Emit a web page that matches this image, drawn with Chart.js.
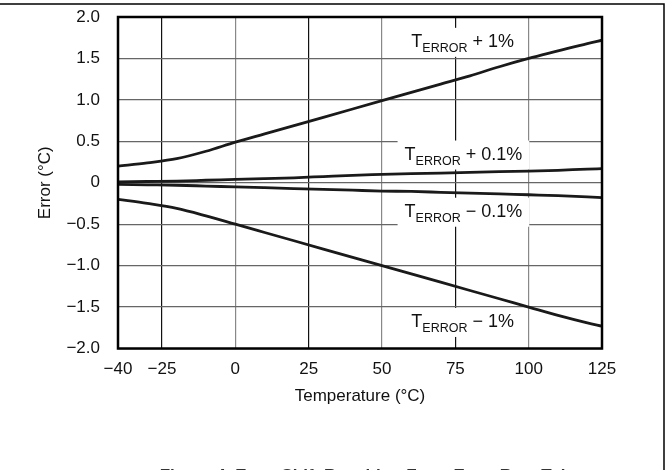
<!DOCTYPE html>
<html>
<head>
<meta charset="utf-8">
<script src="https://cdn.jsdelivr.net/npm/chart.js@4/dist/chart.umd.min.js"></script>
<style>
  html, body { margin: 0; padding: 0; background: #fff; }
  canvas { display: block; }
</style>
</head>
<body>
<canvas id="errChart" width="669" height="470"></canvas>
<script>
// temperatures (°C) where the curves were read
var temps = [-40, -30, -20, -10, 0, 10, 20, 30, 40, 50, 60, 70, 80, 90, 100, 110, 120, 125];

// error (°C) for each tolerance
var errPlus1 = [0.20, 0.24, 0.29, 0.38, 0.49, 0.59, 0.69, 0.79, 0.89, 0.99, 1.09, 1.19, 1.29, 1.40, 1.50, 1.59, 1.68, 1.72];
var errPlus01 = [0.01, 0.015, 0.02, 0.03, 0.04, 0.05, 0.06, 0.075, 0.09, 0.10, 0.11, 0.115, 0.125, 0.135, 0.14, 0.15, 0.165, 0.17];
var errMinus01 = [-0.02, -0.025, -0.03, -0.04, -0.05, -0.06, -0.07, -0.08, -0.09, -0.10, -0.105, -0.115, -0.125, -0.135, -0.145, -0.155, -0.17, -0.18];
var errMinus1 = [-0.20, -0.25, -0.31, -0.40, -0.50, -0.60, -0.70, -0.80, -0.90, -1.00, -1.10, -1.20, -1.30, -1.40, -1.50, -1.60, -1.69, -1.73];

var xTicks = [-40, -25, 0, 25, 50, 75, 100, 125];
var yTicks = [-2, -1.5, -1, -0.5, 0, 0.5, 1, 1.5, 2];

// curve labels: T + subscript + rest, anchored at (temp, error)
var curveLabels = [
    { x: 60, y: 1.64, sub: 'ERROR', rest: ' + 1%' },
    { x: 57.7, y: 0.28, sub: 'ERROR', rest: ' + 0.1%' },
    { x: 57.7, y: -0.41, sub: 'ERROR', rest: ' \u2212 0.1%' },
    { x: 60, y: -1.74, sub: 'ERROR', rest: ' \u2212 1%' }
];

var captionText = 'Figure 4. Error Shift Resulting From Error Rate Tolerance';

function toPoints(ys) {
    return temps.map(function (t, i) { return { x: t, y: ys[i] }; });
}

function minus(s) {
    return s.replace('-', '\u2212');
}

var FONT = '"Liberation Sans", Arial, Helvetica, sans-serif';

var lineStyle = {
    borderColor: '#1a1a1a',
    borderWidth: 2.8,
    pointRadius: 0,
    fill: false,
    cubicInterpolationMode: 'monotone'
};

var labelPlugin = {
    id: 'curveLabels',
    beforeDatasetsDraw: function (chart) {
        var ctx = chart.ctx;
        var xs = chart.scales.x, ys = chart.scales.y;
        ctx.save();
        curveLabels.forEach(function (l) {
            var px = xs.getPixelForValue(l.x);
            var py = ys.getPixelForValue(l.y);
            ctx.font = '18px ' + FONT;
            var wT = ctx.measureText('T').width;
            var wRest = ctx.measureText(l.rest).width;
            ctx.font = '12.5px ' + FONT;
            var wSub = ctx.measureText(l.sub).width;
            var total = wT + wSub + wRest;
            ctx.fillStyle = '#fff';
            ctx.fillRect(px - 7, py - 19, total + 14, 29);
            ctx.fillStyle = '#111';
            ctx.textBaseline = 'alphabetic';
            ctx.textAlign = 'left';
            ctx.font = '18px ' + FONT;
            ctx.fillText('T', px, py);
            ctx.font = '12.5px ' + FONT;
            ctx.fillText(l.sub, px + wT, py + 5);
            ctx.font = '18px ' + FONT;
            ctx.fillText(l.rest, px + wT + wSub, py);
        });
        ctx.restore();
    },
    afterDraw: function (chart) {
        var ctx = chart.ctx;
        var a = chart.chartArea;
        ctx.save();
        // plot frame
        ctx.strokeStyle = '#000';
        ctx.lineWidth = 2.5;
        ctx.strokeRect(a.left, a.top, a.right - a.left, a.bottom - a.top);
        // page frame (top and right)
        ctx.lineWidth = 1.5;
        ctx.beginPath();
        ctx.moveTo(0, 4);
        ctx.lineTo(664, 4);
        ctx.lineTo(664, 470);
        ctx.stroke();
        // figure caption, cut off at the bottom edge
        ctx.fillStyle = '#333';
        ctx.font = 'bold 17px ' + FONT;
        ctx.textAlign = 'center';
        ctx.textBaseline = 'alphabetic';
        ctx.fillText(captionText, 390, 481);
        ctx.restore();
    }
};

var ctx = document.getElementById('errChart').getContext('2d');

new Chart(ctx, {
    type: 'line',
    data: {
        datasets: [
            Object.assign({ label: 'TERROR + 1%', data: toPoints(errPlus1) }, lineStyle),
            Object.assign({ label: 'TERROR + 0.1%', data: toPoints(errPlus01) }, lineStyle),
            Object.assign({ label: 'TERROR - 0.1%', data: toPoints(errMinus01) }, lineStyle),
            Object.assign({ label: 'TERROR - 1%', data: toPoints(errMinus1) }, lineStyle)
        ]
    },
    options: {
        responsive: false,
        animation: false,
        devicePixelRatio: 1,
        layout: { padding: { top: 17, right: 67, left: 35, bottom: 0 } },
        plugins: {
            legend: { display: false },
            tooltip: { enabled: false }
        },
        scales: {
            x: {
                type: 'linear',
                min: -40,
                max: 125,
                afterBuildTicks: function (axis) {
                    axis.ticks = xTicks.map(function (v) { return { value: v }; });
                },
                afterFit: function (scale) {
                    scale.height = 121.5;
                    scale.paddingLeft = 0;
                    scale.paddingRight = 0;
                },
                border: { display: false },
                grid: {
                    drawTicks: false,
                    lineWidth: 1.2,
                    color: function (c) {
                        var v = c.tick && c.tick.value;
                        return (v === -25 || v === 25 || v === 75) ? '#111' : '#888';
                    }
                },
                ticks: {
                    padding: 11,
                    color: '#111',
                    font: { family: FONT, size: 17 },
                    maxRotation: 0,
                    callback: function (v) { return minus(String(v)); }
                },
                title: {
                    display: true,
                    text: 'Temperature (\u00B0C)',
                    color: '#111',
                    font: { family: FONT, size: 17 },
                    padding: { top: 0, bottom: 63 }
                }
            },
            y: {
                min: -2,
                max: 2,
                afterBuildTicks: function (axis) {
                    axis.ticks = yTicks.map(function (v) { return { value: v }; });
                },
                afterFit: function (scale) {
                    scale.width = 83;
                    scale.paddingTop = 0;
                    scale.paddingBottom = 0;
                },
                border: { display: false },
                grid: {
                    drawTicks: false,
                    lineWidth: 1.2,
                    color: '#666'
                },
                ticks: {
                    padding: 18,
                    color: '#111',
                    font: { family: FONT, size: 17 },
                    callback: function (v) { return v === 0 ? '0' : minus(v.toFixed(1)); }
                },
                title: {
                    display: true,
                    text: 'Error (\u00B0C)',
                    color: '#111',
                    font: { family: FONT, size: 17 },
                    padding: { top: 0, bottom: 0 }
                }
            }
        }
    },
    plugins: [labelPlugin]
});
</script>
</body>
</html>
